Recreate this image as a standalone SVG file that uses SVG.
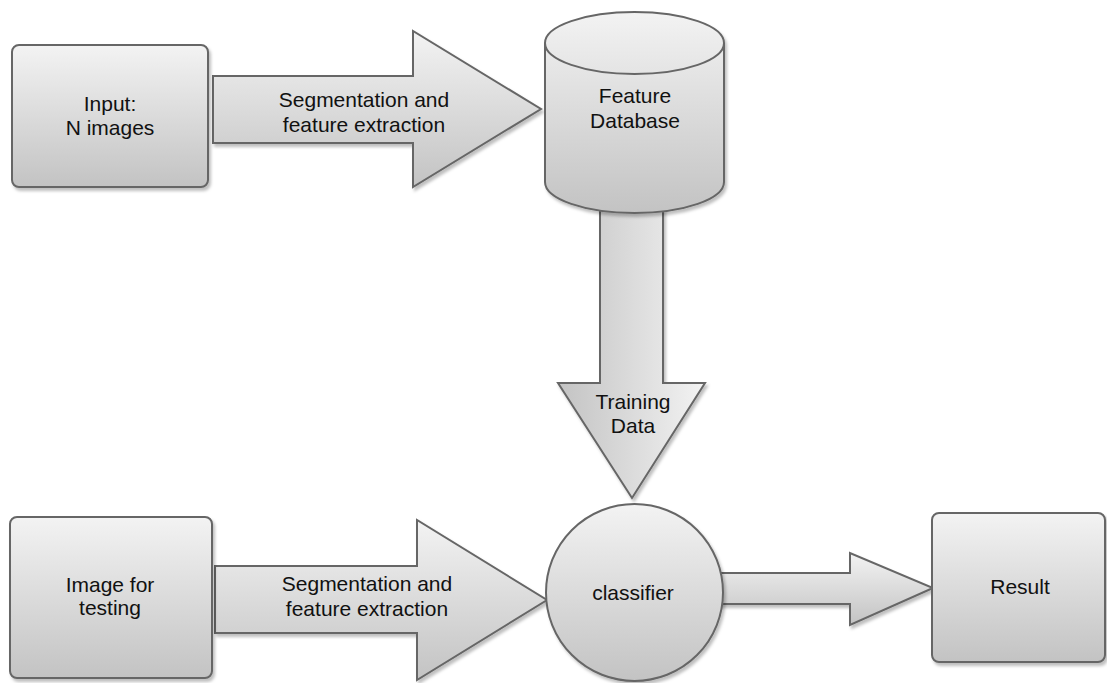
<svg xmlns="http://www.w3.org/2000/svg" width="1107" height="683" viewBox="0 0 1107 683">
  <defs>
    <linearGradient id="gv" x1="0" y1="0" x2="0" y2="1">
      <stop offset="0" stop-color="#f3f3f3"/>
      <stop offset="1" stop-color="#c3c3c3"/>
    </linearGradient>
    <linearGradient id="gh" x1="1" y1="0" x2="0" y2="0">
      <stop offset="0" stop-color="#f3f3f3"/>
      <stop offset="1" stop-color="#c3c3c3"/>
    </linearGradient>
    <filter id="sh" x="-10%" y="-10%" width="130%" height="130%">
      <feDropShadow dx="2" dy="3" stdDeviation="1.5" flood-color="#000" flood-opacity="0.25"/>
    </filter>
  </defs>
  <style>
    .s { stroke: #666666; stroke-width: 2; filter: url(#sh); }
    .v { fill: url(#gv); }
    .h { fill: url(#gh); }
    text { font-family: "Liberation Sans", Arial, Helvetica, sans-serif; font-size: 21px; fill: #111111; text-anchor: middle; }
  </style>
  <rect width="1107" height="683" fill="#ffffff"/>

  <g id="connectors">
    <g id="arrow-seg-top">
      <polygon class="s v" points="213,76 413,76 413,31 541,109 413,187 413,143 213,143"/>
      <text x="364" y="107">Segmentation and</text>
      <text x="364" y="132">feature extraction</text>
    </g>
    <g id="arrow-seg-bottom">
      <polygon class="s v" points="215,566 417,566 417,520 547,600 417,680 417,633 215,633"/>
      <text x="367" y="591">Segmentation and</text>
      <text x="367" y="616">feature extraction</text>
    </g>
    <g id="arrow-training">
      <polygon class="s h" points="600,200 663,200 663,383 705,383 632,498 558,383 600,383"/>
      <text x="633" y="409">Training</text>
      <text x="633" y="433">Data</text>
    </g>
    <g id="arrow-result">
      <polygon class="s v" points="716,573 850,573 850,553 933,588 850,625 850,604 716,604"/>
    </g>
  </g>

  <g id="node-input">
    <rect class="s v" x="12" y="45" width="196" height="142" rx="7"/>
    <text x="110" y="111">Input:</text>
    <text x="110" y="135">N images</text>
  </g>

  <g id="node-database">
    <path class="s v" d="M545,43 A89.5,31 0 0 1 724,43 L724,182 A89.5,31 0 0 1 545,182 Z"/>
    <path d="M545,43 A89.5,31 0 0 0 724,43" fill="none" stroke="#666666" stroke-width="2"/>
    <text x="635" y="103">Feature</text>
    <text x="635" y="128">Database</text>
  </g>

  <g id="node-testing">
    <rect class="s v" x="10" y="517" width="202" height="161" rx="7"/>
    <text x="110" y="592">Image for</text>
    <text x="110" y="615">testing</text>
  </g>

  <g id="node-classifier">
    <ellipse class="s v" cx="634.5" cy="592.5" rx="88.5" ry="88.5"/>
    <text x="633" y="600">classifier</text>
  </g>

  <g id="node-result">
    <rect class="s v" x="932" y="513" width="173" height="149" rx="7"/>
    <text x="1020" y="594">Result</text>
  </g>
</svg>
